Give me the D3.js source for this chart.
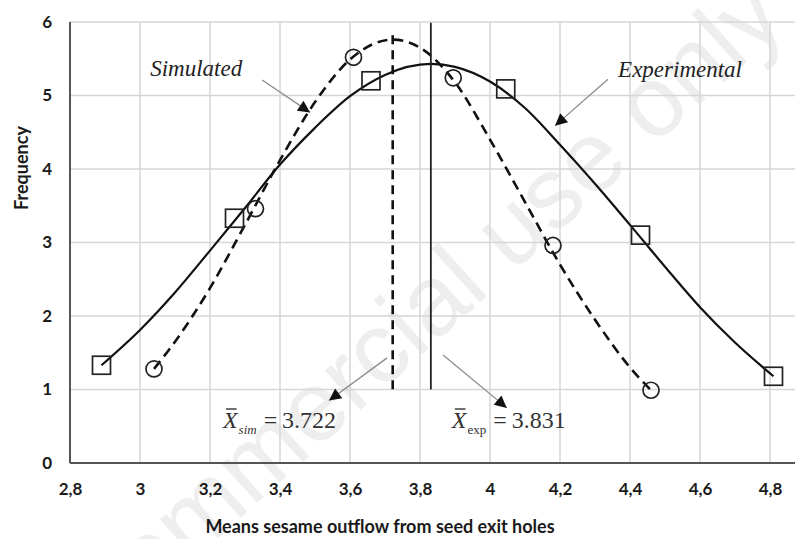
<!DOCTYPE html>
<html>
<head>
<meta charset="utf-8">
<script src="https://cdn.jsdelivr.net/npm/d3@7"></script>
<style>
  html, body { margin: 0; padding: 0; background: #fff; }
  svg { display: block; }
</style>
</head>
<body>
<svg id="chart" width="795" height="539"></svg>
<script>
// ---- data ----
const xTicks = [2.8, 3, 3.2, 3.4, 3.6, 3.8, 4, 4.2, 4.4, 4.6, 4.8];
const yTicks = [0, 1, 2, 3, 4, 5, 6];

// measured points (squares: experimental, circles: simulated)
const expX = [2.89, 3.27, 3.66, 4.045, 4.43, 4.81];
const expY = [1.33, 3.33, 5.20, 5.09, 3.10, 1.18];
const simX = [3.04, 3.33, 3.61, 3.895, 4.18, 4.46];
const simY = [1.28, 3.46, 5.52, 5.24, 2.96, 0.99];

// fitted distribution curves
const expCurveX = [2.89, 3.0, 3.1, 3.2, 3.3, 3.4, 3.5, 3.6, 3.7, 3.831, 3.9, 4.0, 4.1, 4.2, 4.3, 4.4, 4.5, 4.6, 4.7, 4.81];
const expCurveY = [1.33, 1.81, 2.32, 2.89, 3.47, 4.06, 4.56, 4.99, 5.28, 5.43, 5.39, 5.19, 4.83, 4.33, 3.80, 3.24, 2.67, 2.12, 1.64, 1.18];
const simCurveX = [3.04, 3.1, 3.2, 3.3, 3.4, 3.5, 3.6, 3.722, 3.8, 3.9, 4.0, 4.1, 4.2, 4.3, 4.4, 4.46];
const simCurveY = [1.28, 1.65, 2.38, 3.24, 4.12, 4.91, 5.49, 5.76, 5.65, 5.18, 4.40, 3.55, 2.70, 1.95, 1.30, 0.99];

// means
const simMean = 3.722;
const expMean = 3.831;

// ---- layout ----
const svg = d3.select("#chart");
const W = 795, H = 539;
const x = d3.scaleLinear().domain([2.8, 4.8]).range([70, 770]);
const y = d3.scaleLinear().domain([0, 6]).range([463, 22]);
const tickFmt = d3.formatLocale({ decimal: ",", thousands: ".", grouping: [3], currency: ["", ""] }).format(".1~f");
const meanFmt = d3.format(".3f");

// watermark
svg.append("text")
  .attr("transform", "translate(789,24) rotate(-42)")
  .attr("text-anchor", "end")
  .attr("font-family", "Liberation Sans, Arial, sans-serif")
  .attr("font-size", 100)
  .attr("fill", "#eeeeee")
  .text("Non-commercial use only");

// gridlines
const grid = svg.append("g").attr("stroke", "#d6d6d6").attr("stroke-width", 1.5);
grid.selectAll("line.h").data(yTicks.filter(d => d > 0)).join("line")
  .attr("x1", x(2.8)).attr("x2", W)
  .attr("y1", d => y(d)).attr("y2", d => y(d));
grid.selectAll("line.v").data(xTicks.filter(d => d > 2.8)).join("line")
  .attr("x1", d => x(d)).attr("x2", d => x(d))
  .attr("y1", y(6)).attr("y2", y(0));

// axes
const xAxis = svg.append("g").attr("transform", `translate(0,${y(0)})`)
  .call(d3.axisBottom(x).tickValues(xTicks).tickFormat(tickFmt).tickSize(0).tickPadding(20));
xAxis.select(".domain").remove();
xAxis.selectAll("text")
  .attr("font-family", "Lato, sans-serif").attr("font-weight", 700)
  .attr("font-size", 17).attr("fill", "#1a1a1a");

const yAxis = svg.append("g").attr("transform", `translate(${x(2.8)},0)`)
  .call(d3.axisLeft(y).tickValues(yTicks).tickFormat(d3.format("d")).tickSize(0).tickPadding(18));
yAxis.select(".domain").remove();
yAxis.selectAll("text")
  .attr("font-family", "Lato, sans-serif").attr("font-weight", 700)
  .attr("font-size", 17).attr("fill", "#1a1a1a");

svg.append("line").attr("x1", x(2.8)).attr("x2", W).attr("y1", y(0)).attr("y2", y(0))
  .attr("stroke", "#555").attr("stroke-width", 2);
svg.append("line").attr("x1", x(2.8)).attr("x2", x(2.8)).attr("y1", y(6)).attr("y2", y(0))
  .attr("stroke", "#555").attr("stroke-width", 2);

// axis titles
svg.append("text")
  .attr("x", 380).attr("y", 533).attr("text-anchor", "middle")
  .attr("font-family", "Lato, sans-serif").attr("font-weight", 700)
  .attr("font-size", 18).attr("fill", "#1a1a1a")
  .text("Means sesame outflow from seed exit holes");
svg.append("text")
  .attr("transform", "translate(28,168) rotate(-90)").attr("text-anchor", "middle")
  .attr("font-family", "Lato, sans-serif").attr("font-weight", 700)
  .attr("font-size", 18).attr("fill", "#1a1a1a")
  .text("Frequency");

// curves
const line = d3.line().x(d => x(d[0])).y(d => y(d[1])).curve(d3.curveMonotoneX);
svg.append("path").datum(d3.zip(expCurveX, expCurveY))
  .attr("d", line).attr("fill", "none").attr("stroke", "#111").attr("stroke-width", 2.2);
svg.append("path").datum(d3.zip(simCurveX, simCurveY))
  .attr("d", line).attr("fill", "none").attr("stroke", "#111").attr("stroke-width", 2.6)
  .attr("stroke-dasharray", "10,6");

// mean lines
svg.append("line")
  .attr("x1", x(simMean)).attr("x2", x(simMean)).attr("y1", y(5.82)).attr("y2", y(1))
  .attr("stroke", "#111").attr("stroke-width", 2.6).attr("stroke-dasharray", "9,6");
svg.append("line")
  .attr("x1", x(expMean)).attr("x2", x(expMean)).attr("y1", y(5.99)).attr("y2", y(1))
  .attr("stroke", "#222").attr("stroke-width", 1.8);

// markers
const sq = 18;
svg.append("g").selectAll("rect").data(d3.zip(expX, expY)).join("rect")
  .attr("x", d => x(d[0]) - sq / 2).attr("y", d => y(d[1]) - sq / 2)
  .attr("width", sq).attr("height", sq)
  .attr("fill", "none").attr("stroke", "#222").attr("stroke-width", 1.7);
svg.append("g").selectAll("circle").data(d3.zip(simX, simY)).join("circle")
  .attr("cx", d => x(d[0])).attr("cy", d => y(d[1])).attr("r", 8)
  .attr("fill", "none").attr("stroke", "#222").attr("stroke-width", 1.7);

// annotation arrows
svg.append("defs").append("marker")
  .attr("id", "tri").attr("viewBox", "0 0 10 10").attr("refX", 10).attr("refY", 5)
  .attr("markerWidth", 14).attr("markerHeight", 12).attr("markerUnits", "userSpaceOnUse")
  .attr("orient", "auto")
  .append("path").attr("d", "M0,0L10,5L0,10Z").attr("fill", "#111");

const arrows = [
  [[3.349, 5.21], [3.486, 4.77]],
  [[4.337, 5.22], [4.186, 4.59]],
  [[3.706, 1.43], [3.540, 0.85]],
  [[3.866, 1.47], [4.048, 0.75]]
];
svg.append("g").selectAll("line").data(arrows).join("line")
  .attr("x1", d => x(d[0][0])).attr("y1", d => y(d[0][1]))
  .attr("x2", d => x(d[1][0])).attr("y2", d => y(d[1][1]))
  .attr("stroke", "#8a8a8a").attr("stroke-width", 1.3)
  .attr("marker-end", "url(#tri)");

// series labels
const serif = "Liberation Serif, Times New Roman, serif";
svg.append("text").attr("x", x(3.029)).attr("y", y(5.27))
  .attr("font-family", serif).attr("font-style", "italic").attr("font-size", 23).attr("fill", "#222")
  .text("Simulated");
svg.append("text").attr("x", x(4.366)).attr("y", y(5.25))
  .attr("font-family", serif).attr("font-style", "italic").attr("font-size", 23).attr("fill", "#222")
  .text("Experimental");

// mean labels: X-bar with subscript
function meanLabel(x0, sub, subItalic, value) {
  const t = svg.append("text").attr("x", x(x0)).attr("y", y(0.476))
    .attr("font-family", serif).attr("font-size", 24).attr("fill", "#333");
  const X = t.append("tspan").attr("font-style", "italic").text("X");
  t.append("tspan").attr("font-size", 13).attr("dy", 6).attr("dx", 1)
    .attr("font-style", subItalic ? "italic" : "normal").text(sub);
  t.append("tspan").attr("dy", -6).attr("dx", 7).text("=\u2009" + meanFmt(value));
  const w = X.node().getComputedTextLength();
  svg.append("line")
    .attr("x1", x(x0) + 3).attr("x2", x(x0) + w - 1)
    .attr("y1", y(0.476) - 19).attr("y2", y(0.476) - 19)
    .attr("stroke", "#333").attr("stroke-width", 1.4);
}
meanLabel(3.237, "sim", true, simMean);
meanLabel(3.891, "exp", false, expMean);
</script>
</body>
</html>
